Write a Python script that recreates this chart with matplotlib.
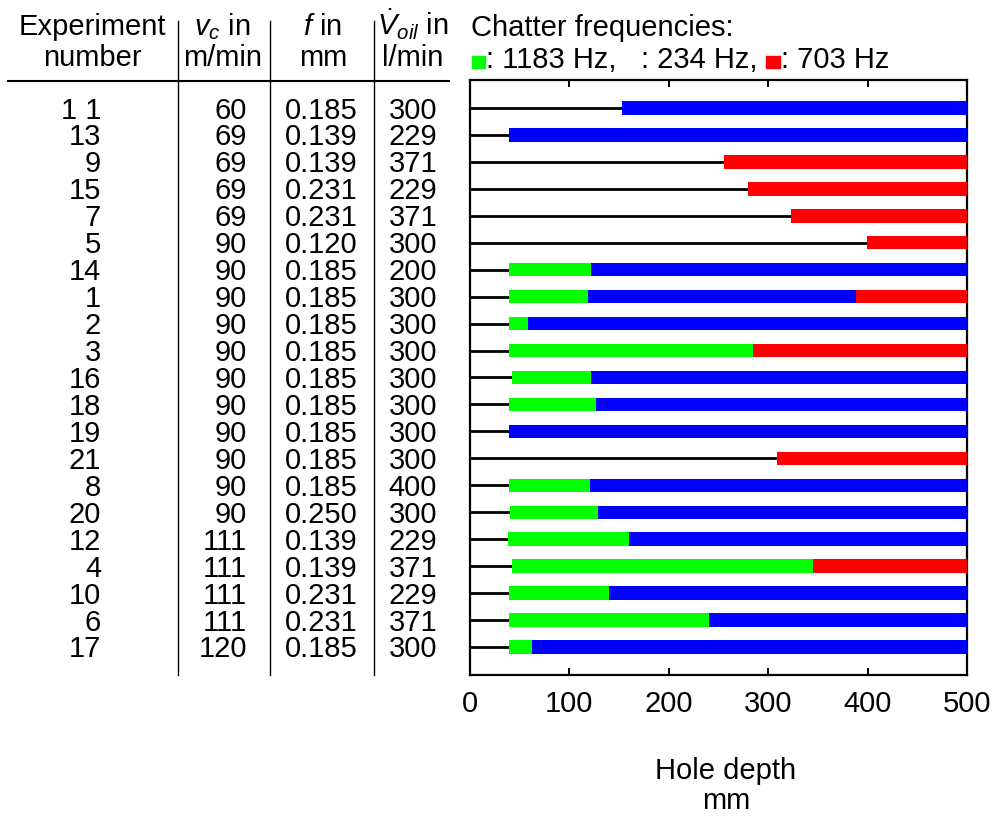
import matplotlib
matplotlib.use("Agg")
import matplotlib.pyplot as plt
import matplotlib.transforms as mtransforms
from matplotlib.patches import Rectangle
import numpy as np

plt.rcParams['font.family'] = ['Liberation Sans', 'DejaVu Sans']
plt.rcParams['mathtext.fontset'] = 'custom'
plt.rcParams['mathtext.rm'] = 'Liberation Sans'
plt.rcParams['mathtext.it'] = 'Liberation Sans:italic'

W, H = 994, 816
FS = 21

# experiment table (top to bottom)
exp_labels = ["1 1", "13", "9", "15", "7", "5", "14", "1", "2", "3", "16",
              "18", "19", "21", "8", "20", "12", "4", "10", "6", "17"]
vc = ["60", "69", "69", "69", "69", "90", "90", "90", "90", "90", "90",
      "90", "90", "90", "90", "90", "111", "111", "111", "111", "120"]
feed = ["0.185", "0.139", "0.139", "0.231", "0.231", "0.120", "0.185", "0.185",
        "0.185", "0.185", "0.185", "0.185", "0.185", "0.185", "0.185", "0.250",
        "0.139", "0.139", "0.231", "0.231", "0.185"]
voil = ["300", "229", "371", "229", "371", "300", "200", "300", "300", "300",
        "300", "300", "300", "300", "400", "300", "229", "371", "229", "371", "300"]

# hole depth in mm: chatter onset, end of 1183 Hz band, end of 234 Hz band;
# the 703 Hz band runs from the blue end to the hole bottom
onset = [153, 39, 256, 280, 323, 399, 39, 39, 39, 39, 42,
         39, 39, 309, 39, 40, 38, 42, 39, 39, 39]
green_end = [153, 39, 256, 280, 323, 399, 122, 119, 58, 285, 122,
             127, 39, 309, 121, 129, 160, 345, 140, 240, 62]
blue_end = [500, 500, 256, 280, 323, 399, 500, 388, 500, 285, 500,
            500, 500, 309, 500, 500, 500, 345, 500, 500, 500]
hole_depth = 500

GREEN, BLUE, RED = "#00ff00", "#0000ff", "#ff0000"


def fx(px):
    return px / W


def fy(py):
    return 1 - py / H


fig = plt.figure(figsize=(W / 100, H / 100), dpi=100)
ax = fig.add_axes([fx(470), fy(675), 497 / W, 595 / H])

n = len(exp_labels)
rows = np.arange(n)
onset = np.array(onset, float)
green_end = np.array(green_end, float)
blue_end = np.array(blue_end, float)

bh = 0.5
ax.hlines(rows, 0, onset, color="black", lw=2.0, zorder=2)
ax.barh(rows, green_end - onset, left=onset, height=bh, color=GREEN, lw=0, zorder=3)
ax.barh(rows, blue_end - green_end, left=green_end, height=bh, color=BLUE, lw=0, zorder=3)
ax.barh(rows, hole_depth - blue_end, left=blue_end, height=bh, color=RED, lw=0, zorder=3)

ax.set_xlim(0, 500)
ax.set_ylim(n - 1 + 1.04, -1.04)
ax.set_xticks([0, 100, 200, 300, 400, 500])
ax.set_yticks([])
ax.tick_params(axis='x', direction='in', top=True, length=5, width=1.4,
               labelsize=FS, pad=11)
for s in ax.spines.values():
    s.set_linewidth(1.6)

fig.text(fx(726), fy(779), "Hole depth", ha='center', va='baseline', fontsize=FS)
fig.text(fx(726), fy(809), "mm", ha='center', va='baseline', fontsize=FS)

# table to the left of the bars, rows share the bar axes' y positions
trans = mtransforms.blended_transform_factory(fig.transFigure, ax.transData)
base = 10.5 / 26.95
for i in range(n):
    y = i + base
    fig.text(fx(101), y, exp_labels[i], transform=trans, ha='right', va='baseline', fontsize=FS)
    fig.text(fx(247), y, vc[i], transform=trans, ha='right', va='baseline', fontsize=FS)
    fig.text(fx(358), y, feed[i], transform=trans, ha='right', va='baseline', fontsize=FS)
    fig.text(fx(437), y, voil[i], transform=trans, ha='right', va='baseline', fontsize=FS)

# headers
fig.text(fx(92), fy(35), "Experiment", ha='center', va='baseline', fontsize=FS)
fig.text(fx(92), fy(66), "number", ha='center', va='baseline', fontsize=FS)
fig.text(fx(222), fy(35), r"$v_c$ in", ha='center', va='baseline', fontsize=FS)
fig.text(fx(223), fy(66), "m/min", ha='center', va='baseline', fontsize=FS)
fig.text(fx(322), fy(35), r"$f$ in", ha='center', va='baseline', fontsize=FS)
fig.text(fx(323), fy(66), "mm", ha='center', va='baseline', fontsize=FS)
fig.text(fx(413), fy(35), r"$\dot{V}_{oil}$ in", ha='center', va='baseline', fontsize=FS)
fig.text(fx(413), fy(66), "l/min", ha='center', va='baseline', fontsize=FS)

# table rules
fig.add_artist(plt.Line2D([fx(8), fx(449)], [fy(81), fy(81)], color="black", lw=1.5))
for xv in (178, 270, 374):
    fig.add_artist(plt.Line2D([fx(xv), fx(xv)], [fy(21), fy(675)], color="black", lw=1.0))

# legend line
fig.text(fx(471), fy(36), "Chatter frequencies:", ha='left', va='baseline', fontsize=FS)
fig.add_artist(Rectangle((fx(471.5), fy(67.5)), 13.5 / W, 11.5 / H, color=GREEN,
                         transform=fig.transFigure))
fig.text(fx(486), fy(68), ": 1183 Hz,", ha='left', va='baseline', fontsize=FS)
fig.text(fx(641), fy(68), ": 234 Hz,", ha='left', va='baseline', fontsize=FS)
fig.add_artist(Rectangle((fx(765.5), fy(67.5)), 14 / W, 11.5 / H, color=RED,
                         transform=fig.transFigure))
fig.text(fx(781), fy(68), ": 703 Hz", ha='left', va='baseline', fontsize=FS)

fig.savefig("out.png", dpi=100)
